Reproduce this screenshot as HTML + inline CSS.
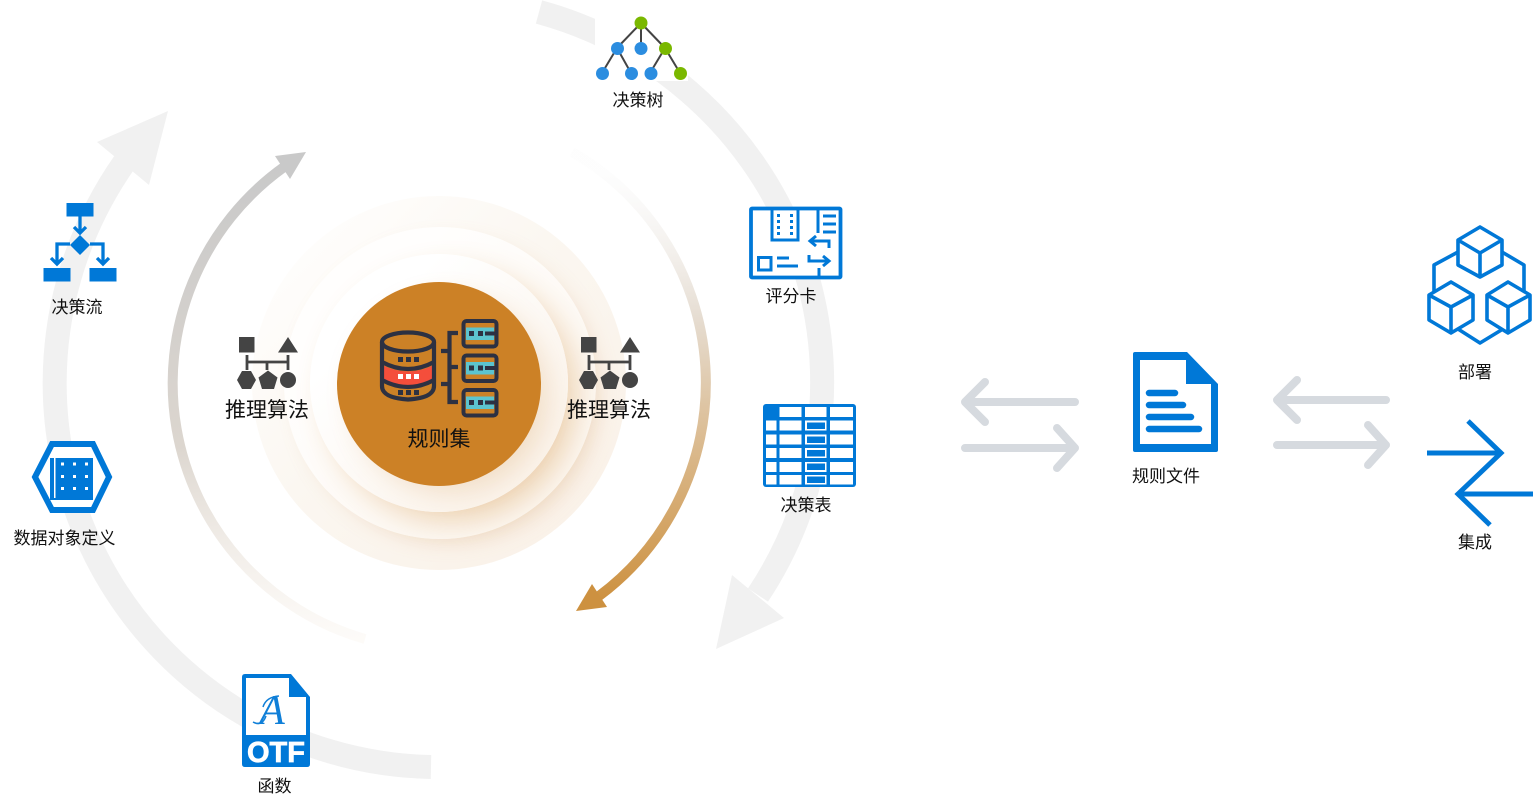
<!DOCTYPE html>
<html lang="zh"><head><meta charset="utf-8"><title>规则集</title>
<style>
html,body{margin:0;padding:0;background:#fff;width:1534px;height:805px;overflow:hidden}
.r{position:absolute;border-radius:50%}
svg{position:absolute;left:0;top:0}
text{font-family:"Liberation Sans","Noto Sans CJK SC",sans-serif;fill:#111;text-anchor:middle}
</style></head><body>
<div class="r" style="left:252px;top:196px;width:374px;height:374px;background:linear-gradient(135deg,#fffefd 10%,#fbf7f1 45%,#faf2e9 85%)"></div>
<div class="r" style="left:284px;top:227px;width:312px;height:312px;background:linear-gradient(135deg,#fffefd 25%,#fdf9f4 70%);box-shadow:8px 8px 22px -5px rgba(210,150,90,.2)"></div>
<div class="r" style="left:310px;top:254px;width:258px;height:258px;background:linear-gradient(135deg,#fff 25%,#fbf4ec 80%);box-shadow:13px 13px 30px -4px rgba(206,130,40,.32)"></div>
<div class="r" style="left:337px;top:282px;width:204px;height:204px;background:#cc8126;box-shadow:10px 10px 26px -4px rgba(206,130,40,.2)"></div>
<svg width="1534" height="805" viewBox="0 0 1534 805">
<defs>
<linearGradient id="ga" gradientUnits="userSpaceOnUse" x1="600" y1="170" x2="620" y2="600"><stop offset="0" stop-color="#f4f4f4" stop-opacity=".15"/><stop offset=".35" stop-color="#e6ddd2"/><stop offset="1" stop-color="#cd9140"/></linearGradient>
<linearGradient id="gb" gradientUnits="userSpaceOnUse" x1="280" y1="165" x2="350" y2="640"><stop offset="0" stop-color="#c9c9c9"/><stop offset=".55" stop-color="#dcd6cf"/><stop offset="1" stop-color="#f8f1e9" stop-opacity=".3"/></linearGradient>
</defs>
<g fill="none" stroke="#f1f1f1" stroke-width="24">
<path d="M539 12A384 384 0 0 1 758 595"/>
<path d="M431 767A384 384 0 0 1 124 163"/>
</g>
<polygon points="732,575 784,618 716,649" fill="#f1f1f1"/>
<polygon points="168,111 97,142 149,185" fill="#f1f1f1"/>
<path d="M572 152A266 266 0 0 1 599 596" fill="none" stroke="url(#ga)" stroke-width="10"/>
<polygon points="576,611 592,584 607,607" fill="#cd9140"/>
<path d="M365 639A266 266 0 0 1 284 167" fill="none" stroke="url(#gb)" stroke-width="10"/>
<polygon points="306,152 275,156 290,179" fill="#c9c9c9"/>

<!-- tree -->
<rect x="595" y="13" width="93" height="68" fill="#fff"/>
<g stroke="#444" stroke-width="2" fill="none"><path d="M641 23L617 48M641 23V48M641 23L665 48M617 48L602 73M617 48L631 73M665 48L650 73M665 48L680 73"/></g>
<g fill="#2b8de0"><circle cx="617.500" cy="48.500" r="6.500"/><circle cx="641" cy="48.500" r="6.500"/><circle cx="602.500" cy="73.500" r="6.500"/><circle cx="631.500" cy="73.500" r="6.500"/><circle cx="651" cy="73.500" r="6.500"/></g>
<g fill="#7ab800"><circle cx="641" cy="23" r="6.500"/><circle cx="665.500" cy="48.500" r="6.500"/><circle cx="680.500" cy="73.500" r="6.500"/></g>

<!-- scorecard -->
<rect x="751" y="208.500" width="89.500" height="69" fill="#fff" stroke="#0078d7" stroke-width="3.800" rx="1"/>
<g fill="none" stroke="#0078d7" stroke-width="3">
<path d="M772 208V240H798V208M818 208V233M823 216H836M823 224H836M823 232H836M777 258H789M777 266H798M819 268V278"/>
<rect x="758.500" y="257.500" width="12.500" height="12.500"/>
<path d="M829 248V241H811M816 236L810 241L816 246M809 255V261H828M823 256L829 261L823 266"/>
</g>
<g fill="#0078d7"><rect x="777" y="214" width="3" height="3"/><rect x="790" y="214" width="3" height="3"/><rect x="777" y="220" width="3" height="3"/><rect x="790" y="220" width="3" height="3"/><rect x="777" y="226" width="3" height="3"/><rect x="790" y="226" width="3" height="3"/><rect x="777" y="232" width="3" height="3"/><rect x="790" y="232" width="3" height="3"/></g>

<!-- table -->
<rect x="763" y="404" width="93" height="83" rx="3" fill="#0078d7"/>
<g fill="#fff">
<rect x="779.500" y="407" width="22" height="10"/><rect x="805" y="407" width="21.500" height="10"/><rect x="830" y="407" width="23" height="10"/>
<rect x="766" y="420.500" width="10.500" height="10"/><rect x="779.500" y="420.500" width="22" height="10"/><rect x="805" y="420.500" width="21.500" height="10"/><rect x="830" y="420.500" width="23" height="10"/>
<rect x="766" y="434.500" width="10.500" height="10"/><rect x="779.500" y="434.500" width="22" height="10"/><rect x="805" y="434.500" width="21.500" height="10"/><rect x="830" y="434.500" width="23" height="10"/>
<rect x="766" y="448" width="10.500" height="10"/><rect x="779.500" y="448" width="22" height="10"/><rect x="805" y="448" width="21.500" height="10"/><rect x="830" y="448" width="23" height="10"/>
<rect x="766" y="462" width="10.500" height="10"/><rect x="779.500" y="462" width="22" height="10"/><rect x="805" y="462" width="21.500" height="10"/><rect x="830" y="462" width="23" height="10"/>
<rect x="766" y="475" width="10.500" height="9.500"/><rect x="779.500" y="475" width="22" height="9.500"/><rect x="805" y="475" width="21.500" height="9.500"/><rect x="830" y="475" width="23" height="9.500"/>
</g>
<g fill="#0078d7"><rect x="807" y="422.500" width="18" height="6.500"/><rect x="807" y="436.500" width="18" height="6.500"/><rect x="807" y="450" width="18" height="6.500"/><rect x="807" y="463.500" width="18" height="6.500"/><rect x="807" y="476.500" width="18" height="6.500"/></g>

<!-- flow -->
<g fill="#0078d7">
<rect x="66.500" y="203" width="27" height="13.500"/><rect x="43.500" y="268" width="27" height="13.500"/><rect x="89.500" y="268" width="27" height="13.500"/>
<polygon points="80,235 90,245 80,255 70,245"/>
</g>
<g fill="none" stroke="#0078d7" stroke-width="3.300"><path d="M80 216V232M74 227L80 233L86 227M70 244H57V263M51 258L57 264L63 258M90 244H103V263M97 258L103 264L109 258"/></g>

<!-- hexagon -->
<polygon points="35,477 52,444 93,444 109,477 93,510 52,510" fill="#fff" stroke="#0078d7" stroke-width="6"/>
<rect x="50" y="458" width="43" height="42" fill="#0078d7"/>
<rect x="54" y="458" width="1.500" height="40" fill="#fff"/>
<g fill="#fff"><rect x="61" y="462.500" width="3" height="3"/><rect x="73" y="462.500" width="3" height="3"/><rect x="85" y="462.500" width="3" height="3"/><rect x="61" y="475" width="3" height="3"/><rect x="73" y="475" width="3" height="3"/><rect x="85" y="475" width="3" height="3"/><rect x="61" y="487" width="3" height="3"/><rect x="73" y="487" width="3" height="3"/><rect x="85" y="487" width="3" height="3"/></g>

<!-- OTF -->
<path d="M245 674H291L310 697V764Q310 767 307 767H245Q242 767 242 764V677Q242 674 245 674Z" fill="#0078d7"/>
<path d="M246 678H289V697H306V735H246Z" fill="#fff"/>
<text x="272" y="724" font-size="42" style="font-family:'Liberation Serif',serif;font-style:italic;fill:#0f7fd8">A</text>
<path d="M263 707Q266 697 279 696M253 722Q262 727 266 716" fill="none" stroke="#0f7fd8" stroke-width="1.500"/>
<text x="276" y="762" font-size="29" style="fill:#fff;font-weight:700;stroke:#fff;stroke-width:.7">OTF</text>

<!-- algorithm icons -->
<g fill="#444">
<rect x="239" y="337" width="15.500" height="15.500"/><polygon points="278,352.500 288,337 298,352.500"/>
<path d="M247 355V370M288 355V370M247 362H288M267 362V370" fill="none" stroke="#444" stroke-width="2.800"/>
<polygon points="237,380 242,371 251,371 256,380 251,389 242,389"/>
<polygon points="268,370.500 277.500,377.500 274,389 262,389 258.500,377.500"/>
<circle cx="288" cy="380" r="8"/>
</g>
<g transform="translate(342 0)" fill="#444">
<rect x="239" y="337" width="15.500" height="15.500"/><polygon points="278,352.500 288,337 298,352.500"/>
<path d="M247 355V370M288 355V370M247 362H288M267 362V370" fill="none" stroke="#444" stroke-width="2.800"/>
<polygon points="237,380 242,371 251,371 256,380 251,389 242,389"/>
<polygon points="268,370.500 277.500,377.500 274,389 262,389 258.500,377.500"/>
<circle cx="288" cy="380" r="8"/>
</g>

<!-- DB -->
<path d="M382 365Q408 378 434 365V381Q408 394 382 381Z" fill="#f44e3b"/>
<g fill="none" stroke="#2d3142" stroke-width="4.200">
<ellipse cx="408" cy="342" rx="26" ry="9.500"/>
<path d="M382 342V386Q382 398 408 399.500Q434 398 434 386V342M382 362Q408 376 434 362M382 380Q408 394 434 380"/>
<path d="M458 333H449.500V402H458M441 351H449M449.500 367H458M441 384H449"/>
</g>
<g fill="#2d3142"><rect x="398" y="357" width="5" height="5"/><rect x="406" y="357" width="5" height="5"/><rect x="414" y="357" width="5" height="5"/><rect x="398" y="390" width="5" height="5"/><rect x="406" y="390" width="5" height="5"/><rect x="414" y="390" width="5" height="5"/></g>
<g fill="#fff"><rect x="398" y="374" width="5" height="5"/><rect x="406" y="374" width="5" height="5"/><rect x="414" y="374" width="5" height="5"/></g>
<g>
<rect x="463.500" y="321" width="33" height="25.500" rx="3" fill="#cc8126" stroke="#2d3142" stroke-width="4"/>
<rect x="466" y="327.500" width="28" height="12.500" fill="#5cc4cf"/>
<path d="M485 333.500H496" stroke="#2d3142" stroke-width="4"/>
<rect x="469" y="331" width="5" height="5" fill="#2d3142"/><rect x="478" y="331" width="5" height="5" fill="#2d3142"/>
</g>
<g transform="translate(0 34.500)">
<rect x="463.500" y="321" width="33" height="25.500" rx="3" fill="#cc8126" stroke="#2d3142" stroke-width="4"/>
<rect x="466" y="327.500" width="28" height="12.500" fill="#5cc4cf"/>
<path d="M485 333.500H496" stroke="#2d3142" stroke-width="4"/>
<rect x="469" y="331" width="5" height="5" fill="#2d3142"/><rect x="478" y="331" width="5" height="5" fill="#2d3142"/>
</g>
<g transform="translate(0 69)">
<rect x="463.500" y="321" width="33" height="25.500" rx="3" fill="#cc8126" stroke="#2d3142" stroke-width="4"/>
<rect x="466" y="327.500" width="28" height="12.500" fill="#5cc4cf"/>
<path d="M485 333.500H496" stroke="#2d3142" stroke-width="4"/>
<rect x="469" y="331" width="5" height="5" fill="#2d3142"/><rect x="478" y="331" width="5" height="5" fill="#2d3142"/>
</g>

<!-- swap arrows -->
<g fill="none" stroke="#d6dadf" stroke-width="8" stroke-linecap="round" stroke-linejoin="round">
<path d="M965 402H1075M985 382L965 402L985 422"/>
<path d="M965 448H1075M1057 428L1075 448L1057 468"/>
<path d="M1277 400H1386M1297 380L1277 400L1297 420"/>
<path d="M1277 445H1386M1368 425L1386 445L1368 465"/>
</g>

<!-- doc -->
<path d="M1135 352H1187L1218 384V450Q1218 452 1216 452H1135Q1133 452 1133 450V354Q1133 352 1135 352Z" fill="#0078d7"/>
<path d="M1140 360H1186V384H1211V444H1140Z" fill="#fff"/>
<g stroke="#0078d7" stroke-width="6.500" stroke-linecap="round"><path d="M1149 393H1175M1149 405H1183M1149 417H1191M1149 429H1199"/></g>

<!-- deploy -->
<g fill="none" stroke="#0078d7" stroke-width="3.600" stroke-linejoin="round">
<path d="M1480 227L1502 240V265L1480 277L1458 265V240ZM1458 240L1480 253L1502 240M1480 253V277"/>
<path d="M1451 282L1473 295V320L1451 333L1429 320V295ZM1429 295L1451 307L1473 295M1451 307V333"/>
<path d="M1508 282L1530 295V320L1508 333L1487 320V295ZM1487 295L1508 307L1530 295M1508 307V333"/>
<path d="M1458 252L1434 265V292M1502 252L1524 265V292M1458 329L1480 343L1503 329"/>
</g>
<!-- integrate -->
<g fill="none" stroke="#0078d7" stroke-width="5">
<path d="M1427 453H1502M1468 421L1501 453L1458 494L1490 525M1458 494H1533"/>
</g>

<!-- labels -->
<g font-size="17">
<text x="638" y="106">决策树</text>
<text x="791" y="302">评分卡</text>
<text x="806" y="511">决策表</text>
<text x="77" y="313">决策流</text>
<text x="64.500" y="544">数据对象定义</text>
<text x="274.500" y="792">函数</text>
<text x="1166" y="482">规则文件</text>
<text x="1475" y="378">部署</text>
<text x="1475" y="548">集成</text>
</g>
<g font-size="21">
<text x="267" y="417">推理算法</text>
<text x="609" y="417">推理算法</text>
<text x="439" y="446">规则集</text>
</g>
</svg>
</body></html>
